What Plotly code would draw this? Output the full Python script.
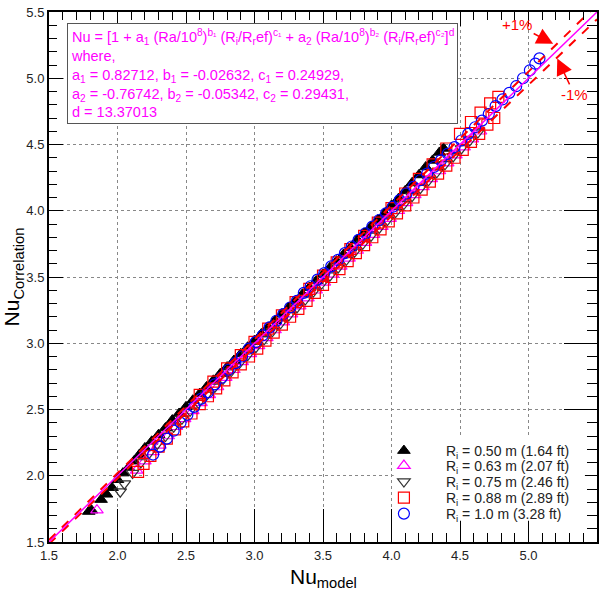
import plotly.graph_objects as go

# ---------------- data ----------------
# R_i = 0.50 m
x_050 = [1.79, 1.81, 1.88, 1.92, 1.96, 2.00, 2.04, 2.08, 2.12, 2.16, 2.20, 2.25, 2.30, 2.35, 2.40,
         2.45, 2.50, 2.55, 2.60, 2.65, 2.70, 2.75, 2.80, 2.85, 2.90, 2.95, 3.00, 3.05, 3.10, 3.15,
         3.20, 3.25, 3.30, 3.35, 3.40, 3.45, 3.50, 3.55, 3.60, 3.65, 3.70, 3.75, 3.80, 3.85, 3.90,
         3.95, 4.00, 4.05, 4.10, 4.15, 4.20, 4.25, 4.30, 4.35, 4.38]
y_050 = [1.73, 1.74, 1.82, 1.86, 1.91, 1.97, 2.02, 2.06, 2.11, 2.16, 2.21, 2.26, 2.31, 2.36, 2.42,
         2.47, 2.52, 2.57, 2.62, 2.67, 2.72, 2.77, 2.82, 2.87, 2.92, 2.97, 3.02, 3.07, 3.12, 3.17,
         3.22, 3.27, 3.32, 3.37, 3.42, 3.47, 3.52, 3.57, 3.62, 3.67, 3.72, 3.78, 3.83, 3.88, 3.93,
         3.98, 4.04, 4.09, 4.15, 4.21, 4.27, 4.33, 4.38, 4.44, 4.47]

# R_i = 0.63 m
x_063 = [1.85, 2.14, 2.20, 2.26, 2.31, 2.37, 2.43, 2.49, 2.55, 2.61, 2.67, 2.73, 2.79, 2.85, 2.91,
         2.97, 3.03, 3.09, 3.15, 3.21, 3.27, 3.33, 3.39, 3.45, 3.51, 3.57, 3.63, 3.69, 3.75, 3.81,
         3.87, 3.93, 3.99, 4.05, 4.11, 4.17, 4.23, 4.29, 4.35, 4.41, 4.47, 4.53, 4.59, 4.65]
y_063 = [1.74, 2.04, 2.11, 2.18, 2.23, 2.30, 2.37, 2.43, 2.49, 2.55, 2.61, 2.67, 2.74, 2.80, 2.86,
         2.92, 2.98, 3.04, 3.10, 3.16, 3.22, 3.28, 3.34, 3.40, 3.46, 3.52, 3.58, 3.64, 3.70, 3.76,
         3.82, 3.88, 3.94, 4.00, 4.06, 4.12, 4.18, 4.24, 4.30, 4.36, 4.42, 4.48, 4.54, 4.60]

# R_i = 0.75 m
x_075 = [2.02, 2.05, 2.11, 2.17, 2.23, 2.29, 2.35, 2.41, 2.47, 2.53, 2.59, 2.65, 2.71, 2.77, 2.83,
         2.89, 2.95, 3.01, 3.07, 3.13, 3.19, 3.25, 3.31, 3.37, 3.43, 3.49, 3.55, 3.61, 3.67, 3.73,
         3.79, 3.85, 3.91, 3.97, 4.03, 4.09, 4.15, 4.21, 4.27, 4.33, 4.39, 4.45, 4.51, 4.57, 4.63]
y_075 = [1.88, 1.94, 2.02, 2.10, 2.17, 2.24, 2.30, 2.37, 2.43, 2.49, 2.55, 2.61, 2.67, 2.73, 2.79,
         2.85, 2.91, 2.97, 3.03, 3.09, 3.15, 3.21, 3.27, 3.33, 3.39, 3.45, 3.51, 3.57, 3.63, 3.69,
         3.75, 3.81, 3.87, 3.93, 3.99, 4.05, 4.11, 4.17, 4.23, 4.29, 4.35, 4.41, 4.47, 4.53, 4.59]

# R_i = 0.88 m
x_088 = [2.15, 2.19, 2.24, 2.30, 2.36, 2.42, 2.48, 2.54, 2.60, 2.66, 2.72, 2.78, 2.84, 2.90, 2.96,
         3.02, 3.08, 3.14, 3.20, 3.26, 3.32, 3.38, 3.44, 3.50, 3.56, 3.62, 3.68, 3.74, 3.80, 3.86,
         3.92, 3.98, 4.04, 4.10, 4.16, 4.22, 4.28, 4.34, 4.40, 4.46, 4.52, 4.58, 4.64, 4.70, 4.75,
         2.60, 2.70, 2.80, 2.90, 3.00, 3.10, 3.20, 3.30, 3.40, 3.50, 3.60, 3.70, 3.80, 3.90, 4.00,
         4.10, 4.20, 4.30, 4.40, 4.50, 4.58, 4.65, 4.72, 4.78]
y_088 = [2.03, 2.09, 2.15, 2.22, 2.28, 2.35, 2.41, 2.47, 2.54, 2.60, 2.66, 2.72, 2.78, 2.84, 2.90,
         2.96, 3.02, 3.08, 3.14, 3.20, 3.26, 3.32, 3.38, 3.44, 3.50, 3.56, 3.62, 3.68, 3.74, 3.80,
         3.86, 3.92, 3.98, 4.04, 4.10, 4.16, 4.22, 4.28, 4.34, 4.40, 4.46, 4.52, 4.58, 4.65, 4.70,
         2.61, 2.71, 2.81, 2.91, 3.01, 3.11, 3.21, 3.31, 3.41, 3.51, 3.61, 3.71, 3.81, 3.91, 4.02,
         4.13, 4.24, 4.35, 4.47, 4.58, 4.67, 4.74, 4.81, 4.86]

# R_i = 1.0 m
x_100 = [2.26, 2.31, 2.36, 2.41, 2.46, 2.51, 2.56, 2.61, 2.66, 2.71, 2.76, 2.81, 2.86, 2.91, 2.96,
         3.01, 3.06, 3.11, 3.16, 3.21, 3.26, 3.31, 3.36, 3.41, 3.46, 3.51, 3.56, 3.61, 3.66, 3.71,
         3.76, 3.81, 3.86, 3.91, 3.96, 4.01, 4.06, 4.11, 4.16, 4.21, 4.26, 4.31, 4.36, 4.41, 4.46,
         4.51, 4.56, 4.61, 4.66, 4.71, 4.76, 4.81, 4.86, 4.91, 4.96, 5.01, 5.05, 5.08]
y_100 = [2.16, 2.22, 2.28, 2.34, 2.40, 2.46, 2.52, 2.58, 2.63, 2.69, 2.74, 2.80, 2.85, 2.90, 2.96,
         3.01, 3.06, 3.12, 3.17, 3.22, 3.27, 3.32, 3.38, 3.43, 3.48, 3.53, 3.58, 3.63, 3.68, 3.73,
         3.78, 3.83, 3.88, 3.93, 3.98, 4.03, 4.08, 4.13, 4.18, 4.23, 4.28, 4.33, 4.38, 4.43, 4.48,
         4.53, 4.58, 4.63, 4.68, 4.73, 4.79, 4.84, 4.89, 4.94, 5.00, 5.06, 5.11, 5.15]

# reference lines: perfect agreement and +/-1 %
ref_x = [1.5, 5.5]
ref_y = [1.5, 5.5]
plus1_y = [1.515, 5.555]
minus1_y = [1.485, 5.445]

series_names = ["R<sub>i</sub> = 0.50 m (1.64 ft)", "R<sub>i</sub> = 0.63 m (2.07 ft)",
                "R<sub>i</sub> = 0.75 m (2.46 ft)", "R<sub>i</sub> = 0.88 m (2.89 ft)",
                "R<sub>i</sub> = 1.0 m (3.28 ft)"]

FONT = "Liberation Sans, Arial, sans-serif"
MAG = "#ff00ff"
RED = "#ff0000"

fig = go.Figure()

styles = [
    (x_050, y_050, dict(symbol="triangle-up", color="black", size=11, line=dict(color="black", width=1))),
    (x_063, y_063, dict(symbol="triangle-up-open", color=MAG, size=11, line=dict(width=1.2))),
    (x_075, y_075, dict(symbol="triangle-down-open", color="#333333", size=11, line=dict(width=1.2))),
    (x_088, y_088, dict(symbol="square-open", color=RED, size=11, line=dict(width=1.2))),
    (x_100, y_100, dict(symbol="circle-open", color="#0000ff", size=11, line=dict(width=1.2))),
]
legend_ids = ["legend", "legend2", "legend3", "legend4", "legend5"]
for (xs, ys, mk), nm, lg in zip(styles, series_names, legend_ids):
    fig.add_trace(go.Scatter(x=xs, y=ys, mode="markers", name=nm, marker=mk, legend=lg))

fig.add_trace(go.Scatter(x=ref_x, y=plus1_y, mode="lines", showlegend=False,
                         line=dict(color=RED, width=2, dash="dash")))
fig.add_trace(go.Scatter(x=ref_x, y=minus1_y, mode="lines", showlegend=False,
                         line=dict(color=RED, width=2, dash="dash")))
fig.add_trace(go.Scatter(x=ref_x, y=ref_y, mode="lines", showlegend=False,
                         line=dict(color=MAG, width=1.5)))
# invisible trace that carries the top/right tick axes
fig.add_trace(go.Scatter(x=ref_x, y=ref_y, xaxis="x2", yaxis="y2", mode="lines",
                         showlegend=False, hoverinfo="skip",
                         line=dict(color="rgba(0,0,0,0)", width=0)))

TICKFONT = dict(family=FONT, size=13, color="#222222")
RANGE = [1.5, 5.5]

equation = ("Nu = [1 + a<sub>1</sub> (Ra/10<sup>8</sup>)<sup>b₁</sup> (R<sub>i</sub>/R<sub>r</sub>ef)<sup>c₁</sup>"
            " + a<sub>2</sub> (Ra/10<sup>8</sup>)<sup>b₂</sup> (R<sub>i</sub>/R<sub>r</sub>ef)<sup>c₂</sup>]<sup>d</sup><br>"
            "where,<br>"
            "a<sub>1</sub> = 0.82712, b<sub>1</sub> = -0.02632, c<sub>1</sub> = 0.24929,<br>"
            "a<sub>2</sub> = -0.76742, b<sub>2</sub> = -0.05342, c<sub>2</sub> = 0.29431,<br>"
            "d = 13.37013")

legend_rows_y = [0.1717, 0.1434, 0.1132, 0.0830, 0.0528]
legend_layouts = {}
for lg, yy in zip(legend_ids, legend_rows_y):
    legend_layouts[lg] = dict(x=0.571, y=yy, xanchor="left", yanchor="middle",
                              bgcolor="rgba(0,0,0,0)", borderwidth=0, itemwidth=74,
                              font=dict(family=FONT, size=14, color="#222222"))

fig.update_layout(
    width=604, height=592,
    margin=dict(l=49, r=5, t=12, b=50),
    plot_bgcolor="white", paper_bgcolor="white",
    font=dict(family=FONT, color="black"),
    xaxis=dict(range=RANGE, tick0=1.5, dtick=0.5, tickformat=".1f",
               showline=True, linecolor="black", linewidth=2, mirror=True,
               ticks="inside", ticklen=33, tickwidth=1, tickcolor="black",
               showgrid=True, gridcolor="#888888", griddash="dot", gridwidth=1, zeroline=False,
               minor=dict(dtick=0.1, ticks="inside", ticklen=9, tickcolor="black", tickwidth=1,
                          showgrid=False),
               tickfont=TICKFONT),
    yaxis=dict(range=RANGE, tick0=1.5, dtick=0.5, tickformat=".1f",
               showline=True, linecolor="black", linewidth=2, mirror=True,
               ticks="inside", ticklen=14, tickwidth=1, tickcolor="black",
               showgrid=True, gridcolor="#888888", griddash="dot", gridwidth=1, zeroline=False,
               minor=dict(dtick=0.1, ticks="inside", ticklen=8, tickcolor="black", tickwidth=1,
                          showgrid=False),
               tickfont=TICKFONT),
    xaxis2=dict(range=RANGE, overlaying="x", side="top", anchor="y2", tick0=1.5, dtick=0.5,
                showticklabels=False, showgrid=False, zeroline=False, showline=False,
                ticks="inside", ticklen=14, tickwidth=1, tickcolor="black",
                minor=dict(dtick=0.1, ticks="inside", ticklen=8, tickcolor="black", tickwidth=1,
                           showgrid=False)),
    yaxis2=dict(range=RANGE, overlaying="y", side="right", anchor="x2", tick0=1.5, dtick=0.5,
                showticklabels=False, showgrid=False, zeroline=False, showline=False,
                ticks="inside", ticklen=33, tickwidth=1, tickcolor="black",
                minor=dict(dtick=0.1, ticks="inside", ticklen=10, tickcolor="black", tickwidth=1,
                           showgrid=False)),
    shapes=[dict(type="rect", xref="paper", yref="paper", x0=0.629, x1=0.978, y0=0.04, y1=0.2,
                 fillcolor="white", line=dict(width=0), layer="above")],
    annotations=[
        dict(text=equation, xref="paper", yref="paper", x=0.033, y=0.979, xanchor="left", yanchor="top",
             showarrow=False, align="left", bgcolor="white", bordercolor="#555555", borderwidth=1,
             borderpad=3, font=dict(family=FONT, size=14.5, color=MAG)),
        dict(text="Nu<sub>model</sub>", xref="paper", yref="paper", x=0.5, y=-0.067,
             xanchor="center", yanchor="middle", showarrow=False,
             font=dict(family=FONT, size=21, color="black")),
        dict(text="Nu<sub>Correlation</sub>", xref="paper", yref="paper", x=-0.065, y=0.5,
             xanchor="center", yanchor="middle", textangle=-90, showarrow=False,
             font=dict(family=FONT, size=21, color="black")),
        dict(text="+1%", x=5.18, y=5.26, xref="x", yref="y", ax=-36, ay=-19,
             showarrow=True, arrowhead=2, arrowsize=2.2, arrowwidth=1.5, arrowcolor=RED,
             font=dict(family=FONT, size=15, color=RED)),
        dict(text="-1%", x=5.21, y=5.15, xref="x", yref="y", ax=17, ay=36,
             showarrow=True, arrowhead=2, arrowsize=2.2, arrowwidth=1.5, arrowcolor=RED,
             font=dict(family=FONT, size=15, color=RED)),
    ],
    **legend_layouts,
)

fig.write_html("out.html")
